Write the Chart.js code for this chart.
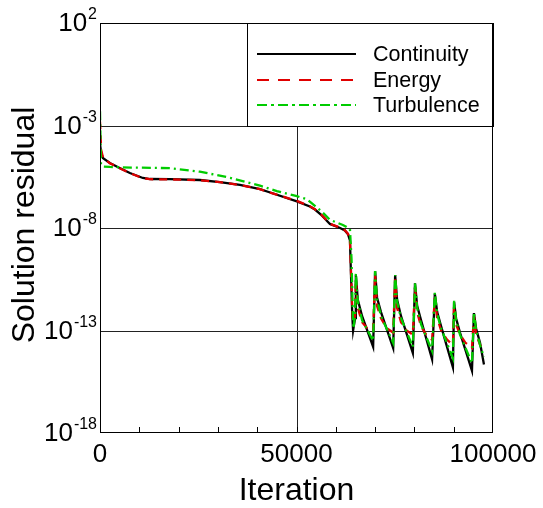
<!DOCTYPE html>
<html><head><meta charset="utf-8">
<script src="https://cdn.jsdelivr.net/npm/chart.js@4/dist/chart.umd.min.js"></script>
<style>html,body{margin:0;padding:0;background:#fff}</style>
</head><body>
<canvas id="c" width="543" height="508"></canvas>
<script>
const seriesNames = ['Continuity', 'Energy', 'Turbulence'];
const xTickValues = [0, 50000, 100000];
const xTickLabels = ['0', '50000', '100000'];
const yTickValues = [1e2, 1e-3, 1e-8, 1e-13, 1e-18];
const yTickExponents = ['2', '-3', '-8', '-13', '-18'];

const contIter = [0,300,800,2500,5000,7600,10900,12700,17800,25400,30500,35600,40700,43300,50100,53400,54700,56500,58500,61100,62300,63100,63600,63900,64200,64400,64900,65100,65600,66700,69500,70000,70500,71500,74600,75100,75600,76600,79600,80150,80700,81700,84500,85200,85800,86800,89800,90100,90600,91600,94650,95150,95700,96700,97700];
const contRes = [1.26e-4,4.47e-5,2.51e-5,1.48e-5,8.5e-6,4.8e-6,2.75e-6,2.45e-6,2.4e-6,2.19e-6,1.74e-6,1.26e-6,7.94e-7,5.37e-7,2.0e-7,1.12e-7,7.94e-8,3.98e-8,1.58e-8,1.0e-8,7.6e-9,5.0e-9,2.51e-9,3.16e-11,5.0e-13,1.0e-13,3.98e-13,5.0e-11,3.16e-12,5.0e-13,1.58e-14,7.94e-11,3.98e-12,7.94e-13,1.4e-14,5.0e-11,3.16e-12,5.0e-13,7.9e-15,2.0e-11,1.58e-12,3.16e-13,4.0e-15,6.3e-12,7.94e-13,1.58e-13,1.6e-15,2.51e-12,3.98e-13,7.94e-14,1.1e-15,7.08e-13,1.26e-13,2.51e-14,2.2e-15];

const energyIter = [0,300,800,2500,5000,7600,10900,12700,17800,25400,30500,35600,40700,43300,50100,53400,54700,56500,58500,61100,62300,63100,63600,63900,64200,64400,64900,65100,65600,66700,68000,69500,70000,70500,71500,73000,74600,75100,75600,76600,78000,79600,80150,80700,81700,83000,84500,85200,85800,86800,88300,89800,90100,90600,91600,93000,94650,95150,95700,96700,97700];
const energyRes = [1.58e-3,6.3e-5,2.6e-5,1.45e-5,8.3e-6,4.7e-6,2.7e-6,2.4e-6,2.35e-6,2.15e-6,1.72e-6,1.25e-6,7.9e-7,5.3e-7,2.1e-7,1.15e-7,8.2e-8,4.1e-8,1.6e-8,1.05e-8,7.8e-9,5.2e-9,2.6e-9,5.0e-11,1.0e-12,2.51e-13,5.0e-13,3.16e-11,1.26e-12,2.51e-13,1.26e-13,1.0e-13,5.0e-11,1.58e-12,3.98e-13,1.26e-13,7.94e-14,3.16e-11,1.26e-12,2.51e-13,1.0e-13,6.3e-14,1.26e-11,7.94e-13,1.58e-13,6.3e-14,3.55e-14,3.98e-12,3.98e-13,1.0e-13,3.55e-14,2.0e-14,1.58e-12,2.0e-13,6.3e-14,2.51e-14,1.41e-14,5.0e-13,6.3e-14,2.0e-14,1.0e-14];

const turbIter = [0,250,800,2500,8000,14500,17800,25400,33100,40700,45000,50100,52700,55200,56700,58500,61800,63600,64000,64300,64500,64900,65100,65600,66700,69500,70000,70500,71500,74600,75100,75600,76600,79600,80150,80700,81700,84500,85200,85800,86800,89800,90100,90600,91600,94650,95150,95700,96700,97700];
const turbRes = [5.0e-3,1.26e-5,1.0e-5,9.5e-6,8.9e-6,8.5e-6,8.3e-6,5.6e-6,2.82e-6,1.17e-6,6.3e-7,3.55e-7,2.51e-7,1.0e-7,5.6e-8,2.51e-8,1.41e-8,8.9e-9,3.16e-10,1.0e-12,1.26e-13,6.3e-13,6.3e-11,2.51e-12,3.16e-13,3.16e-14,7.94e-11,3.16e-12,5.0e-13,2.51e-14,5.0e-11,2.51e-12,3.98e-13,1.58e-14,2.0e-11,1.26e-12,2.0e-13,1.0e-14,7.08e-12,6.3e-13,1.26e-13,4.47e-15,2.82e-12,3.16e-13,6.3e-14,2.51e-15,7.94e-13,1.0e-13,2.0e-14,5.0e-15];

const toPts = (xs, ys) => xs.map((x, i) => ({x: x, y: ys[i]}));

const styles = [
  {color: '#000000', dash: [], legendDash: []},
  {color: '#e00000', dash: [8, 6], legendDash: [12, 9]},
  {color: '#00cc00', dash: [9, 4, 2, 4], legendDash: [10, 4, 3, 4]}
];

const FONT = '"Liberation Sans", Arial, sans-serif';

const decor = {
  id: 'decor',
  beforeDatasetsDraw(chart) {
    const ctx = chart.ctx, a = chart.chartArea;
    const xs = chart.scales.x, ys = chart.scales.y;
    ctx.save();
    ctx.strokeStyle = '#222';
    ctx.lineWidth = 1;
    ctx.beginPath();
    [1e-3, 1e-8, 1e-13].forEach(v => {
      const y = Math.round(ys.getPixelForValue(v)) + 0.5;
      ctx.moveTo(a.left, y); ctx.lineTo(a.right, y);
    });
    const gx = Math.round(xs.getPixelForValue(50000)) + 0.5;
    ctx.moveTo(gx, a.top); ctx.lineTo(gx, a.bottom);
    ctx.stroke();
    ctx.restore();
  },
  afterDatasetsDraw(chart) {
    const ctx = chart.ctx, a = chart.chartArea;
    const xs = chart.scales.x, ys = chart.scales.y;
    ctx.save();
    ctx.strokeStyle = '#000';
    ctx.lineWidth = 1;
    ctx.beginPath();
    for (let v = 10000; v < 100000; v += 10000) {
      const x = Math.round(xs.getPixelForValue(v)) + 0.5;
      ctx.moveTo(x, a.bottom); ctx.lineTo(x, a.bottom - 6);
    }
    ctx.stroke();
    const lx = 247.5, ly = a.top + 0.5, lw = a.right - 247, lh = 103;
    ctx.fillStyle = '#fff';
    ctx.fillRect(lx, ly, lw, lh);
    ctx.strokeStyle = '#000';
    ctx.strokeRect(lx, ly, lw, lh);
    const rows = [54, 80, 105];
    seriesNames.forEach((n, i) => {
      ctx.save();
      ctx.strokeStyle = styles[i].color;
      ctx.lineWidth = 2;
      ctx.setLineDash(styles[i].legendDash);
      ctx.beginPath();
      ctx.moveTo(257, rows[i]); ctx.lineTo(356, rows[i]);
      ctx.stroke();
      ctx.restore();
      ctx.fillStyle = '#000';
      ctx.font = '21.5px ' + FONT;
      ctx.textAlign = 'left';
      ctx.textBaseline = 'middle';
      ctx.fillText(n, 373, rows[i] + 1);
    });
    ctx.strokeStyle = '#000';
    ctx.lineWidth = 1;
    ctx.strokeRect(a.left + 0.5, a.top + 0.5, a.right - a.left - 1, a.bottom - a.top - 1);
    ctx.fillStyle = '#000';
    yTickValues.forEach((v, i) => {
      const y = ys.getPixelForValue(v);
      ctx.font = '16px ' + FONT;
      const we = ctx.measureText(yTickExponents[i]).width;
      ctx.font = '26px ' + FONT;
      const wb = ctx.measureText('10').width;
      const right = 97;
      ctx.textAlign = 'left';
      ctx.textBaseline = 'middle';
      ctx.fillText('10', right - we - wb - 1, y + 1);
      ctx.font = '16px ' + FONT;
      ctx.textBaseline = 'alphabetic';
      ctx.fillText(yTickExponents[i], right - we, y - 4);
    });
    ctx.font = '26px ' + FONT;
    ctx.textAlign = 'center';
    ctx.textBaseline = 'alphabetic';
    xTickValues.forEach((v, i) => {
      ctx.fillText(xTickLabels[i], xs.getPixelForValue(v), 462);
    });
    ctx.font = '32px ' + FONT;
    ctx.fillText('Iteration', (a.left + a.right) / 2, 500);
    ctx.save();
    ctx.translate(34, 225);
    ctx.rotate(-Math.PI / 2);
    ctx.fillText('Solution residual', 0, 0);
    ctx.restore();
    ctx.restore();
  }
};

const datasets = [
  {label: seriesNames[0], data: toPts(contIter, contRes), order: 3},
  {label: seriesNames[1], data: toPts(energyIter, energyRes), order: 2},
  {label: seriesNames[2], data: toPts(turbIter, turbRes), order: 1}
].map((d, i) => Object.assign(d, {
  borderColor: styles[i].color,
  borderDash: styles[i].dash,
  borderWidth: 2.3,
  pointRadius: 0,
  tension: 0,
  fill: false
}));

new Chart(document.getElementById('c'), {
  type: 'line',
  data: {datasets: datasets},
  options: {
    responsive: false,
    animation: false,
    devicePixelRatio: 1,
    layout: {padding: {left: 100, top: 23, right: 50, bottom: 75}},
    plugins: {legend: {display: false}, tooltip: {enabled: false}},
    scales: {
      x: {type: 'linear', min: 0, max: 100000, display: false},
      y: {type: 'logarithmic', min: 1e-18, max: 1e2, display: false}
    }
  },
  plugins: [decor]
});
</script>
</body></html>
